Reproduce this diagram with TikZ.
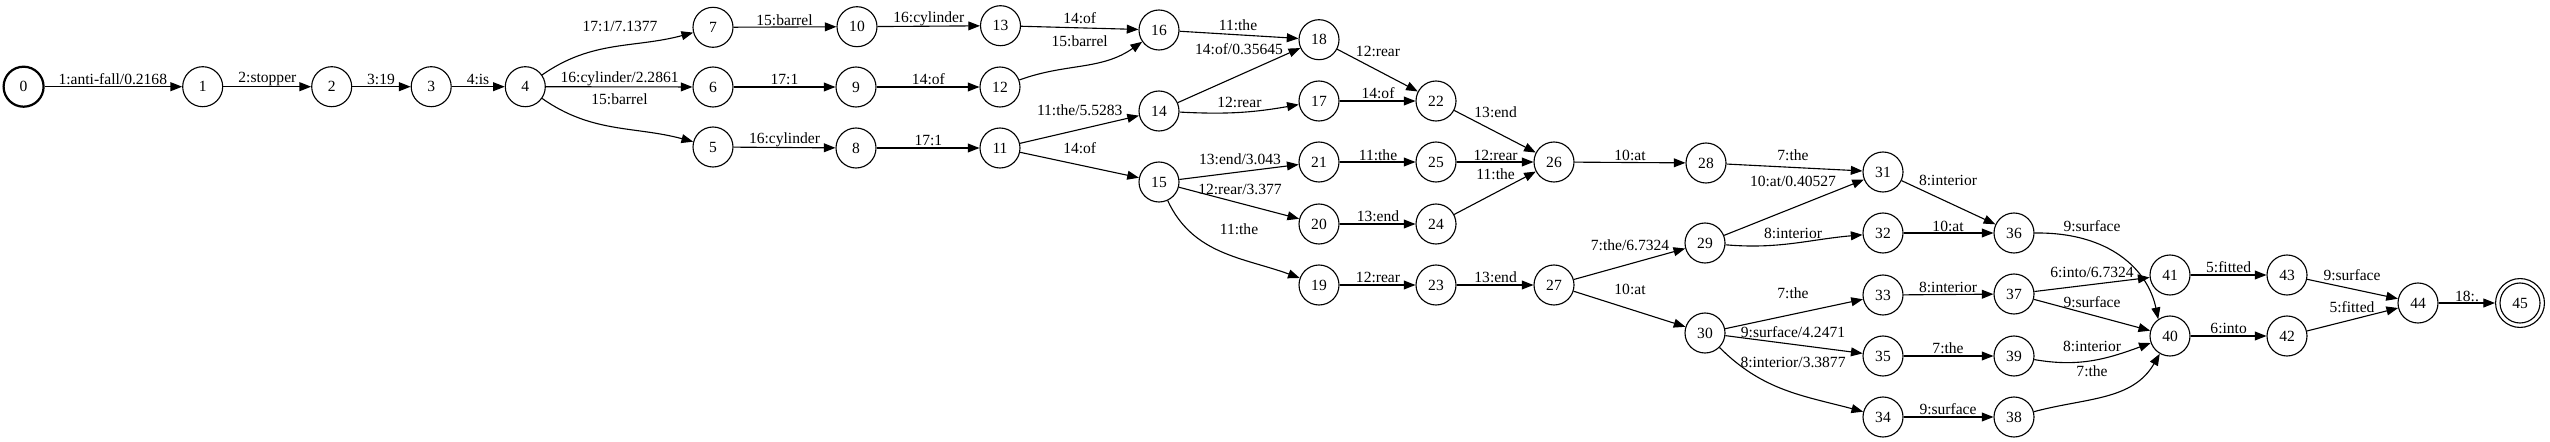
\documentclass[tikz,border=0pt]{standalone}
\usepackage{fontspec}
\setmainfont{Liberation Serif}
\usetikzlibrary{arrows.meta}
\tikzset{
  st/.style={circle, draw, line width=1pt, minimum size=36pt, inner sep=0pt, font=\fontsize{14pt}{16pt}\selectfont},
  startst/.style={st, line width=2pt},
  finalst/.style={st, minimum size=44pt},
  e/.style={draw, line width=1pt, -{Triangle[length=10.5pt,width=8pt]}},
  lbl/.style={inner sep=0pt, font=\fontsize{14pt}{16pt}\selectfont}
}
\begin{document}
\begin{tikzpicture}[x=0.9pt,y=-0.9pt]
\useasboundingbox (0,0) rectangle (2550,442);
% states
\node[startst] (n0) at (23.6,86.7) {0};
\node[st] (n1) at (202.7,86.7) {1};
\node[st] (n2) at (331.7,86.7) {2};
\node[st] (n3) at (431.2,86.7) {3};
\node[st] (n4) at (525.3,86.7) {4};
\node[st] (n7) at (713,27.3) {7};
\node[st] (n10) at (857,26.7) {10};
\node[st] (n13) at (1000.5,25.7) {13};
\node[st] (n16) at (1159,30) {16};
\node[st] (n6) at (713,87) {6};
\node[st] (n9) at (856,87) {9};
\node[st] (n12) at (1000,87) {12};
\node[st] (n5) at (713,147) {5};
\node[st] (n8) at (856,148) {8};
\node[st] (n11) at (1000,148) {11};
\node[st] (n14) at (1159,111) {14};
\node[st] (n15) at (1159,182) {15};
\node[st] (n18) at (1319,39.7) {18};
\node[st] (n17) at (1319,101) {17};
\node[st] (n22) at (1436,101) {22};
\node[st] (n21) at (1319,162) {21};
\node[st] (n25) at (1436,162) {25};
\node[st] (n26) at (1554,162) {26};
\node[st] (n28) at (1706,163) {28};
\node[st] (n20) at (1319,224) {20};
\node[st] (n24) at (1436,224) {24};
\node[st] (n19) at (1319,285) {19};
\node[st] (n23) at (1436,285) {23};
\node[st] (n27) at (1554,285) {27};
\node[st] (n29) at (1705,243) {29};
\node[st] (n30) at (1705,333) {30};
\node[st] (n31) at (1883,172) {31};
\node[st] (n32) at (1883,233) {32};
\node[st] (n33) at (1883,295) {33};
\node[st] (n35) at (1883,356) {35};
\node[st] (n34) at (1883,417) {34};
\node[st] (n36) at (2014,233) {36};
\node[st] (n37) at (2014,294) {37};
\node[st] (n39) at (2014,356) {39};
\node[st] (n38) at (2014,417) {38};
\node[st] (n41) at (2170,275) {41};
\node[st] (n40) at (2170,336) {40};
\node[st] (n43) at (2287,275) {43};
\node[st] (n42) at (2287,336) {42};
\node[st] (n44) at (2418,303) {44};
\node[finalst] (n45) at (2520,303) {45};
\draw[line width=1pt] (n45.center) circle (18pt);
% edges
\draw[e] (n0) -- (n1);
\draw[e] (n1) -- (n2);
\draw[e] (n2) -- (n3);
\draw[e] (n3) -- (n4);
\draw[e] (n4) to[out=35,in=195] (n7);
\draw[e] (n4) -- (n6);
\draw[e] (n4) to[out=-35,in=165] (n5);
\draw[e] (n7) -- (n10);
\draw[e] (n10) -- (n13);
\draw[e] (n13) -- (n16);
\draw[e] (n12) to[out=20,in=215] (n16);
\draw[e] (n6) -- (n9);
\draw[e] (n9) -- (n12);
\draw[e] (n5) -- (n8);
\draw[e] (n8) -- (n11);
\draw[e] (n11) -- (n14);
\draw[e] (n11) -- (n15);
\draw[e] (n16) -- (n18);
\draw[e] (n14) -- (n18);
\draw[e] (n14) to[out=-3,in=190] (n17);
\draw[e] (n15) -- (n21);
\draw[e] (n15) -- (n20);
\draw[e] (n15) to[out=-65,in=160] (n19);
\draw[e] (n18) -- (n22);
\draw[e] (n17) -- (n22);
\draw[e] (n22) -- (n26);
\draw[e] (n21) -- (n25);
\draw[e] (n25) -- (n26);
\draw[e] (n24) -- (n26);
\draw[e] (n20) -- (n24);
\draw[e] (n26) -- (n28);
\draw[e] (n19) -- (n23);
\draw[e] (n23) -- (n27);
\draw[e] (n27) -- (n29);
\draw[e] (n27) -- (n30);
\draw[e] (n28) -- (n31);
\draw[e] (n29) -- (n31);
\draw[e] (n29) to[out=-5,in=185] (n32);
\draw[e] (n30) -- (n33);
\draw[e] (n30) -- (n35);
\draw[e] (n30) to[out=-45,in=165] (n34);
\draw[e] (n31) -- (n36);
\draw[e] (n32) -- (n36);
\draw[e] (n33) -- (n37);
\draw[e] (n35) -- (n39);
\draw[e] (n34) -- (n38);
\draw[e] (n36.east) .. controls (2110,232) and (2148,270) .. (n40.125);
\draw[e] (n37) -- (n41);
\draw[e] (n37) -- (n40);
\draw[e] (n39) to[out=-10,in=200] (n40);
\draw[e] (n38) to[out=15,in=240] (n40);
\draw[e] (n41) -- (n43);
\draw[e] (n40) -- (n42);
\draw[e] (n43) -- (n44);
\draw[e] (n42) -- (n44);
\draw[e] (n44) -- (n45);
% labels
\node[lbl] (l0) at (112.8,79) {1:anti-fall/0.2168};
\node[lbl] (l1) at (267.4,79) {2:stopper};
\node[lbl] (l2) at (381,79) {3:19};
\node[lbl] (l3) at (478,79) {4:is};
\node[lbl] (l4a) at (620,26) {17:1/7.1377};
\node[lbl] (l4b) at (619.6,79) {16:cylinder/2.2861};
\node[lbl] (l4c) at (619.5,99.3) {15:barrel};
\node[lbl] (l7) at (784.5,20) {15:barrel};
\node[lbl] (l10) at (928.8,18.3) {16:cylinder};
\node[lbl] (l13) at (1079.7,18.3) {14:of};
\node[lbl] (l12a) at (1079.7,41.7) {15:barrel};
\node[lbl] (l6) at (784.5,79.3) {17:1};
\node[lbl] (l9) at (928.4,79.3) {14:of};
\node[lbl] (l5) at (784.5,139.3) {16:cylinder};
\node[lbl] (l8) at (928.4,140) {17:1};
\node[lbl] (l11a) at (1079.7,110) {11:the/5.5283};
\node[lbl] (l11b) at (1079.7,147.7) {14:of};
\node[lbl] (l16) at (1238,25) {11:the};
\node[lbl] (l14a) at (1239,49.3) {14:of/0.35645};
\node[lbl] (l14b) at (1239.4,102.3) {12:rear};
\node[lbl] (l15a) at (1240,159.3) {13:end/3.043};
\node[lbl] (l15b) at (1240,189.3) {12:rear/3.377};
\node[lbl] (l15c) at (1239,229.3) {11:the};
\node[lbl] (l18) at (1378,51.7) {12:rear};
\node[lbl] (l17) at (1378,93.3) {14:of};
\node[lbl] (l22) at (1495.6,112.3) {13:end};
\node[lbl] (l21) at (1378,155) {11:the};
\node[lbl] (l25) at (1495.6,155) {12:rear};
\node[lbl] (l24) at (1495.6,174) {11:the};
\node[lbl] (l20) at (1378,216.7) {13:end};
\node[lbl] (l26) at (1630,155) {10:at};
\node[lbl] (l19) at (1378,277.3) {12:rear};
\node[lbl] (l23) at (1495.6,277.3) {13:end};
\node[lbl] (l27a) at (1630,245.7) {7:the/6.7324};
\node[lbl] (l27b) at (1630,289.3) {10:at};
\node[lbl] (l28) at (1793,155.7) {7:the};
\node[lbl] (l29a) at (1793,181.7) {10:at/0.40527};
\node[lbl] (l29b) at (1793,233.3) {8:interior};
\node[lbl] (l30a) at (1793,293.3) {7:the};
\node[lbl] (l30b) at (1793,332.3) {9:surface/4.2471};
\node[lbl] (l30c) at (1793,362.7) {8:interior/3.3877};
\node[lbl] (l31) at (1948,180) {8:interior};
\node[lbl] (l32) at (1948,226.7) {10:at};
\node[lbl] (l33) at (1948,287.3) {8:interior};
\node[lbl] (l35) at (1948,348.3) {7:the};
\node[lbl] (l34) at (1948,409.3) {9:surface};
\node[lbl] (l36) at (2092,225.7) {9:surface};
\node[lbl] (l37a) at (2092,272.7) {6:into/6.7324};
\node[lbl] (l37b) at (2092,301.7) {9:surface};
\node[lbl] (l39) at (2092,346.7) {8:interior};
\node[lbl] (l38) at (2092,371.7) {7:the};
\node[lbl] (l41) at (2228.6,266.7) {5:fitted};
\node[lbl] (l40) at (2228.6,328.3) {6:into};
\node[lbl] (l43) at (2352,275) {9:surface};
\node[lbl] (l42) at (2352,306.7) {5:fitted};
\node[lbl] (l44) at (2467,296) {18:.};
\end{tikzpicture}
\end{document}
